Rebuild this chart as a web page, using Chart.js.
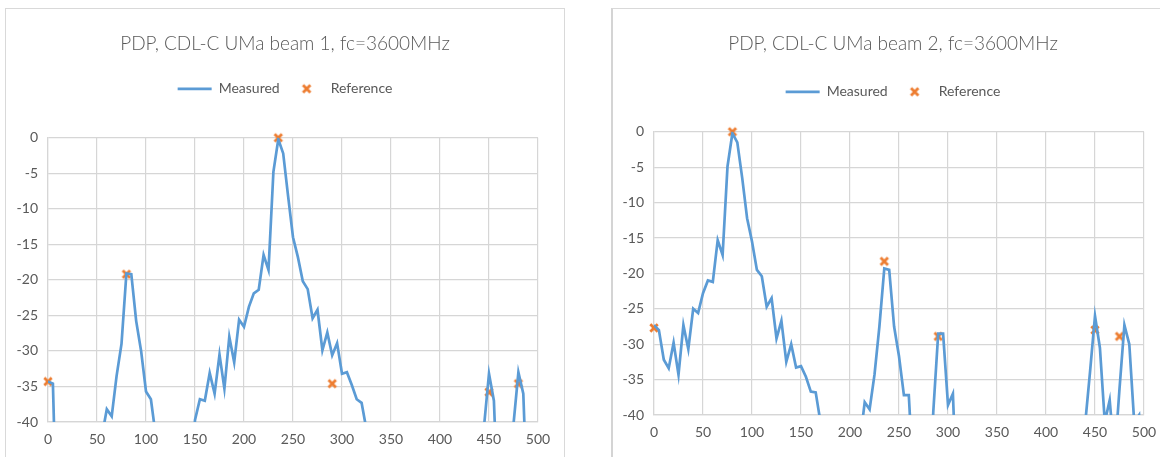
<!DOCTYPE html>
<html>
<head>
<meta charset="utf-8">
<title>PDP, CDL-C UMa</title>
<script src="https://cdn.jsdelivr.net/npm/chart.js@4.4.1/dist/chart.umd.min.js"></script>
<style>
  body { margin: 0; background: #fff; width: 1160px; height: 457px; overflow: hidden; position: relative; }
  .card { position: absolute; top: 8px; border: 1px solid #d9d9d9; background: #fff; overflow: hidden; }
  #card1 { left: 5px; width: 558px; height: 460px; }
  #card2 { left: 611px; width: 560px; height: 460px; border-left: 2px solid #d4d4d4; }
  canvas { display: block; }
</style>
</head>
<body>
<div class="card" id="card1"><canvas id="beam1Chart" width="558" height="453"></canvas></div>
<div class="card" id="card2"><canvas id="beam2Chart" width="560" height="446"></canvas></div>
<script>
// delay axis (ns), one sample every 5 ns
const delayNs = [
  0, 5, 10, 15, 20, 25, 30, 35, 40, 45, 50, 55, 60, 65, 70, 75, 80, 85, 90, 95,
  100, 105, 110, 115, 120, 125, 130, 135, 140, 145, 150, 155, 160, 165, 170, 175, 180, 185, 190, 195,
  200, 205, 210, 215, 220, 225, 230, 235, 240, 245, 250, 255, 260, 265, 270, 275, 280, 285, 290, 295,
  300, 305, 310, 315, 320, 325, 330, 335, 340, 345, 350, 355, 360, 365, 370, 375, 380, 385, 390, 395,
  400, 405, 410, 415, 420, 425, 430, 435, 440, 445, 450, 455, 460, 465, 470, 475, 480, 485, 490, 495,
  500
];

// measured power (dB) for beam 1
const beam1Measured = [
  -34.3, -34.6, -60, -60, -60, -60, -60, -60, -60, -60, -60, -42, -38.2, -39.2, -33.5, -29, -19.1, -19.2, -25.8, -30,
  -35.7, -36.8, -42, -60, -60, -60, -60, -60, -60, -50, -39.7, -36.8, -37, -33.1, -36, -30.5, -35.3, -28, -31.6, -25.6,
  -26.6, -23.8, -21.9, -21.4, -16.5, -18.6, -4.8, -0.2, -2.2, -8.2, -14, -16.8, -20.2, -21.3, -25.4, -24.2, -29.9, -27.4, -30.6, -28.9,
  -33.2, -33, -34.8, -36.8, -37.3, -41.1, -60, -60, -60, -60, -60, -60, -60, -60, -60, -60, -60, -60, -60, -60,
  -60, -60, -60, -60, -60, -60, -60, -60, -55, -40.5, -33.2, -37, -55, -60, -55, -40.3, -33, -36, -55, -60,
  -60
];

// measured power (dB) for beam 2
const beam2Measured = [
  -27.3, -28, -32.2, -33.4, -29.8, -34.3, -27.3, -30.7, -25, -25.6, -22.8, -21, -21.2, -15.3, -17.4, -4.9, -0.2, -1.5, -6.5, -12.2,
  -15.5, -19.5, -20.4, -24.7, -23.5, -29.2, -26.7, -32.5, -30, -33.3, -33.1, -34.6, -36.7, -36.8, -41.1, -60, -60, -60, -60, -60,
  -60, -60, -44, -38.2, -39.2, -34.3, -27.5, -19.3, -19.5, -27.5, -31.7, -37.2, -37.2, -50, -60, -60, -55, -39.5, -28.5, -28.5,
  -38.6, -37, -55, -60, -60, -60, -60, -60, -60, -60, -60, -60, -60, -60, -60, -60, -60, -60, -60, -60,
  -60, -60, -60, -60, -60, -60, -60, -60, -41.2, -33.8, -26, -30.5, -41, -37.9, -46, -36.3, -27.3, -30, -41, -40,
  -50
];

// reference model taps
const beam1RefDelay = [0, 80, 235, 290, 450, 480];
const beam1RefPower = [-34.3, -19.2, 0, -34.6, -35.8, -34.6];
const beam2RefDelay = [0, 80, 235, 290, 450, 475];
const beam2RefPower = [-27.7, 0, -18.3, -28.9, -28, -28.9];

const xTicks = [0, 50, 100, 150, 200, 250, 300, 350, 400, 450, 500];
const yTicks = [0, -5, -10, -15, -20, -25, -30, -35, -40];

const textGrey = '#595959';
const gridGrey = '#d6d6d6';
const lineBlue = '#5b9bd5';
const refOrange = '#ed7d31';

Chart.defaults.font.family = 'Lato, "Open Sans", sans-serif';
Chart.defaults.color = textGrey;

// little "x" marker used for reference taps (points and legend)
const refMarker = document.createElement('canvas');
refMarker.width = 12;
refMarker.height = 12;
(function () {
  const c = refMarker.getContext('2d');
  c.strokeStyle = refOrange;
  c.lineWidth = 2.8;
  c.beginPath();
  c.moveTo(2.3, 2.3); c.lineTo(9.7, 9.7);
  c.moveTo(9.7, 2.3); c.lineTo(2.3, 9.7);
  c.stroke();
})();

function toPoints(xs, ys) {
  return xs.map((x, i) => ({ x: x, y: ys[i] }));
}

// rightGap: empty strip right of the plot, kept as a blank axis so the
// title and legend stay centred on the whole card
function pdpChart(canvasId, titleText, measured, refDelay, refPower, yAxisWidth, rightGap, titleGap, legendGap) {
  const ctx = document.getElementById(canvasId).getContext('2d');
  return new Chart(ctx, {
    type: 'line',
    data: {
      datasets: [{
        label: 'Measured',
        data: toPoints(delayNs, measured),
        borderColor: lineBlue,
        backgroundColor: lineBlue,
        borderWidth: 2.7,
        pointRadius: 0,
        pointStyle: 'line',
        tension: 0
      }, {
        label: 'Reference',
        data: toPoints(refDelay, refPower),
        showLine: false,
        pointStyle: refMarker,
        pointRadius: 5,
        borderColor: refOrange,
        backgroundColor: refOrange,
        clip: false
      }]
    },
    options: {
      responsive: false,
      animation: false,
      plugins: {
        title: {
          display: true,
          text: titleText,
          color: textGrey,
          font: { size: 19, weight: '300' },
          padding: { top: 23, bottom: titleGap }
        },
        legend: {
          labels: {
            usePointStyle: true,
            pointStyleWidth: 34,
            color: textGrey,
            font: { size: 14 },
            padding: 10
          }
        },
        tooltip: { enabled: false }
      },
      scales: {
        x: {
          type: 'linear',
          min: 0,
          max: 500,
          afterBuildTicks: (scale) => { scale.ticks = xTicks.map(v => ({ value: v })); },
          afterFit: (scale) => { scale.height = 40; },
          grid: { color: gridGrey, lineWidth: 1.2, drawTicks: false },
          border: { color: gridGrey, width: 1.2 },
          ticks: { padding: 9, font: { size: 14 }, color: textGrey }
        },
        y: {
          min: -40,
          max: 0,
          afterBuildTicks: (scale) => { scale.ticks = yTicks.map(v => ({ value: v })); },
          afterFit: (scale) => { scale.width = yAxisWidth; },
          grid: { color: gridGrey, lineWidth: 1.2, drawTicks: false },
          border: { color: gridGrey, width: 1.2 },
          ticks: { padding: 10, font: { size: 14 }, color: textGrey }
        },
        spacer: {
          position: 'right',
          min: 0,
          max: 1,
          afterFit: (scale) => { scale.width = rightGap; },
          grid: { display: false, drawTicks: false },
          border: { display: false },
          ticks: { display: false }
        }
      }
    },
    plugins: [{
      id: 'legendGap',
      beforeInit(chart) {
        const fit = chart.legend.fit;
        chart.legend.fit = function () {
          fit.bind(chart.legend)();
          this.height += legendGap;
        };
      }
    }]
  });
}

const beam1Chart = pdpChart('beam1Chart', 'PDP, CDL-C UMa beam 1, fc=3600MHz',
  beam1Measured, beam1RefDelay, beam1RefPower, 42, 26, 17, 32);
const beam2Chart = pdpChart('beam2Chart', 'PDP, CDL-C UMa beam 2, fc=3600MHz',
  beam2Measured, beam2RefDelay, beam2RefPower, 41, 29, 20, 23);
</script>
</body>
</html>
